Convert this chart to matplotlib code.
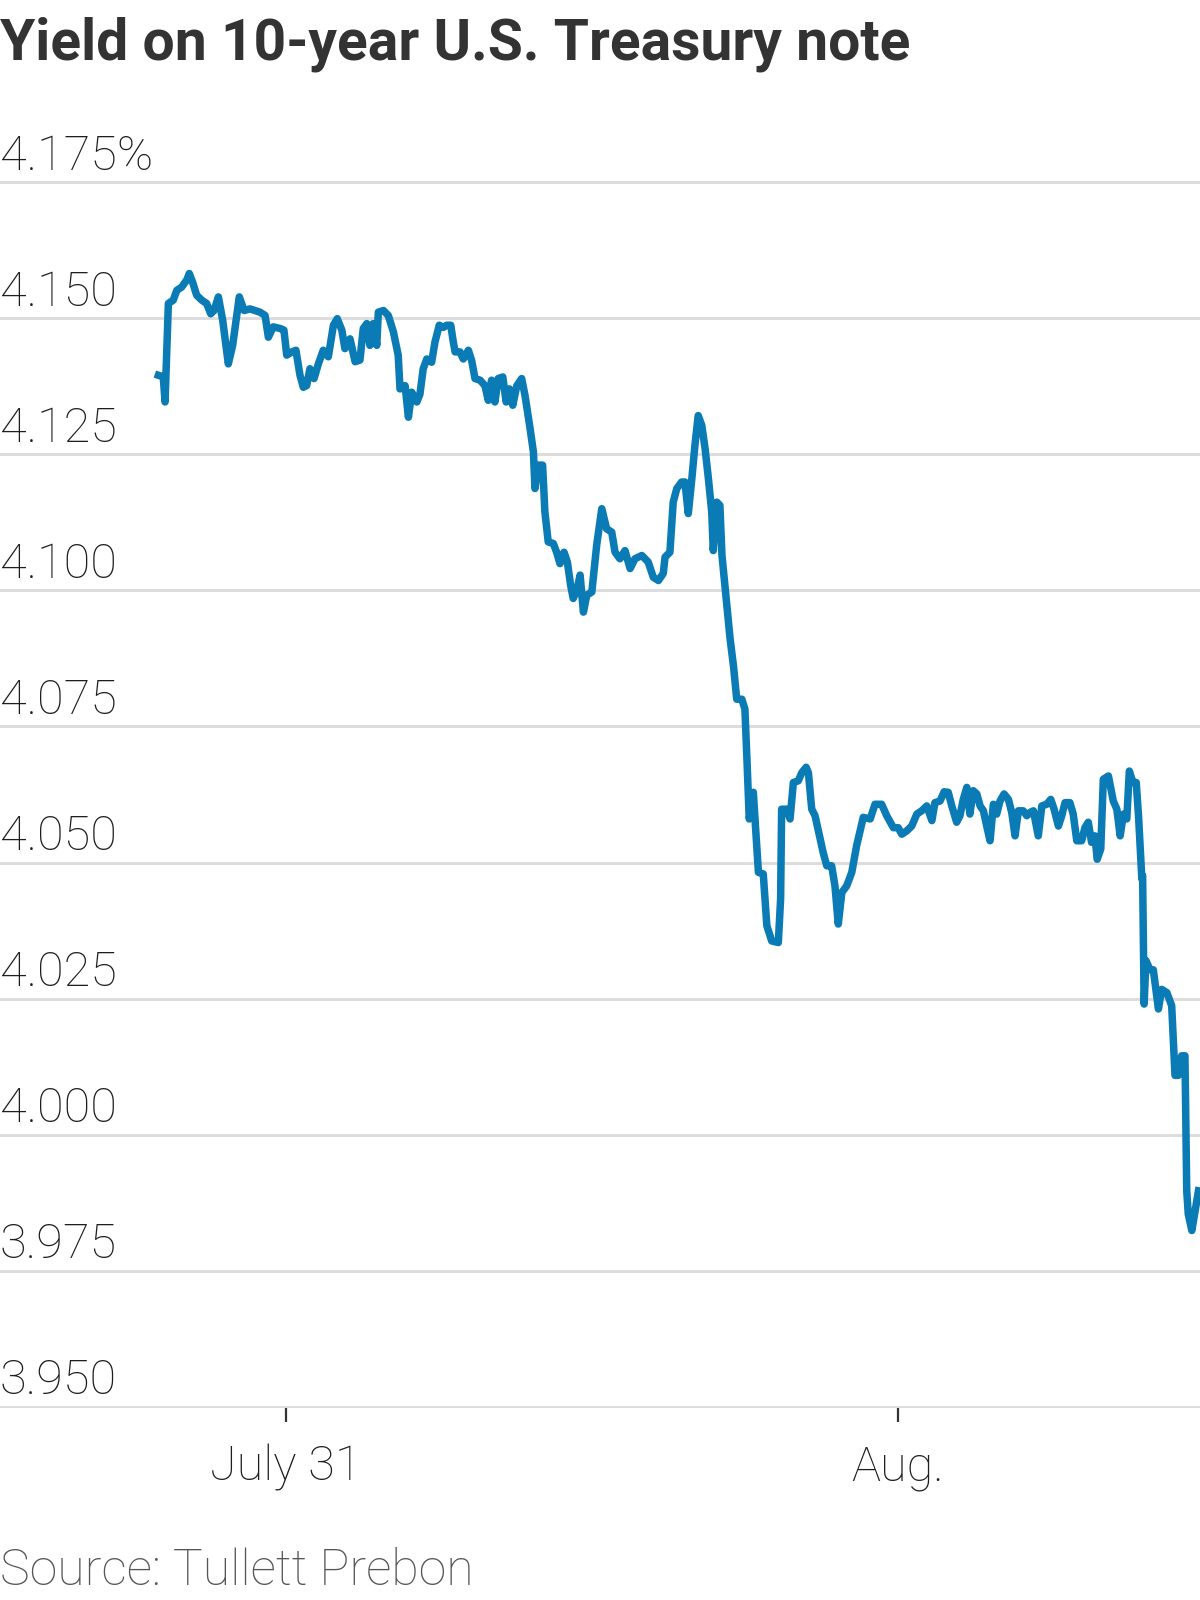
import matplotlib
matplotlib.use('Agg')
import matplotlib.pyplot as plt
from matplotlib import font_manager

# hours after midnight, July 31 (New York time); yield in percent
hours = [
    -4.99, -4.80, -4.73, -4.60, -4.41, -4.27, -4.08, -3.88, -3.78, -3.65,
    -3.49, -3.29, -3.10, -2.94, -2.81, -2.64, -2.47, -2.25, -2.08, -1.82,
    -1.63, -1.40, -1.20, -1.01, -0.81, -0.68, -0.49, -0.22, -0.07, 0.04,
    0.24, 0.40, 0.56, 0.69, 0.82, 0.95, 1.11, 1.28, 1.47, 1.67,
    1.87, 2.02, 2.20, 2.32, 2.52, 2.72, 2.91, 3.04, 3.18, 3.30,
    3.43, 3.57, 3.63, 3.83, 4.02, 4.22, 4.41, 4.48, 4.68, 4.81,
    4.94, 5.14,
    5.26, 5.39, 5.53, 5.72, 5.85, 6.02, 6.18, 6.31, 6.47, 6.57,
    6.64, 6.83, 6.96, 7.16, 7.29, 7.42, 7.62, 7.81, 7.94, 8.07,
    8.20, 8.33, 8.51, 8.64, 8.77, 8.90, 9.06, 9.25, 9.38, 9.58,
    9.71, 9.77, 9.90, 10.07, 10.16, 10.29, 10.49, 10.62, 10.75, 10.91,
    11.04, 11.17, 11.27, 11.41, 11.54, 11.67, 11.80, 12.00, 12.19, 12.39,
    12.58, 12.78, 12.91, 13.10, 13.30, 13.50, 13.69, 13.96, 14.21, 14.41,
    14.61, 14.80, 14.87, 15.06, 15.19, 15.33, 15.52, 15.65, 15.78, 15.92,
    16.04, 16.17, 16.31, 16.44, 16.57, 16.70, 16.76, 16.90, 17.02, 17.10,
    17.42, 17.55, 17.68, 17.88, 18.00, 18.09, 18.17, 18.33, 18.40, 18.53,
    18.72, 18.86, 19.05, 19.31, 19.40, 19.44, 19.64, 19.77, 19.90, 20.09,
    20.23, 20.40, 20.49, 20.62, 20.75, 20.88, 21.07, 21.21, 21.40, 21.53,
    21.66, 21.80, 21.99, 22.19, 22.38,
    22.64, 22.91, 23.10, 23.36, 23.56, 23.82, 24.01, 24.15, 24.34, 24.54,
    24.74, 24.93, 25.13, 25.33, 25.45, 25.65, 25.81, 25.97, 26.11, 26.30,
    26.43, 26.56, 26.70, 26.82, 26.95, 27.09, 27.22, 27.35, 27.48, 27.61,
    27.74, 27.87, 28.00, 28.16, 28.33, 28.46, 28.59, 28.72, 28.91, 29.05,
    29.18, 29.31, 29.50, 29.64, 29.83, 29.99, 30.12, 30.29, 30.42, 30.55,
    30.74, 30.87, 31.01, 31.20, 31.33, 31.46, 31.59, 31.72, 31.81, 31.95,
    32.05, 32.25, 32.44, 32.58, 32.71, 32.84, 32.97, 33.07, 33.21, 33.34,
    33.43, 33.56,
    33.59, 33.65, 33.72, 33.88, 34.01, 34.21, 34.34, 34.54, 34.73, 34.86,
    34.99, 35.12, 35.25, 35.32, 35.38, 35.52, 35.65, 35.78,
]
yields = [
    4.1395, 4.1392, 4.1346, 4.1527, 4.1533, 4.1551, 4.1557, 4.1570, 4.1582, 4.1566,
    4.1542, 4.1533, 4.1527, 4.1508, 4.1514, 4.1539, 4.1496, 4.1416, 4.1450, 4.1539,
    4.1514, 4.1517, 4.1514, 4.1511, 4.1505, 4.1465, 4.1484, 4.1481, 4.1478, 4.1432,
    4.1438, 4.1441, 4.1395, 4.1373, 4.1376, 4.1407, 4.1389, 4.1416, 4.1441, 4.1429,
    4.1487, 4.1499, 4.1478, 4.1444, 4.1462, 4.1420, 4.1423, 4.1481, 4.1490, 4.1450,
    4.1490, 4.1450, 4.1511, 4.1514, 4.1505, 4.1475, 4.1432, 4.1370, 4.1376, 4.1318,
    4.1364, 4.1346,
    4.1360, 4.1407, 4.1425, 4.1419, 4.1456, 4.1487, 4.1483, 4.1487, 4.1487, 4.1456,
    4.1438, 4.1438, 4.1425, 4.1441, 4.1422, 4.1389, 4.1386, 4.1376, 4.1349, 4.1386,
    4.1346, 4.1389, 4.1392, 4.1346, 4.1370, 4.1340, 4.1376, 4.1389, 4.1358, 4.1297,
    4.1254, 4.1187, 4.1230, 4.1230, 4.1144, 4.1089, 4.1086, 4.1070, 4.1049, 4.1070,
    4.1052, 4.1009, 4.0985, 4.1000, 4.1028, 4.0960, 4.0991, 4.0997, 4.1083, 4.1150,
    4.1113, 4.1107, 4.1070, 4.1058, 4.1073, 4.1040, 4.1058, 4.1064, 4.1052, 4.1024,
    4.1018, 4.1031, 4.1061, 4.1070, 4.1162, 4.1187, 4.1199, 4.1199, 4.1141, 4.1205,
    4.1266, 4.1321, 4.1303, 4.1260, 4.1205, 4.1144, 4.1073, 4.1162, 4.1156, 4.1065,
    4.0911, 4.0862, 4.0800, 4.0800, 4.0782, 4.0678, 4.0580, 4.0629, 4.0577, 4.0482,
    4.0479, 4.0384, 4.0356, 4.0353, 4.0433, 4.0598, 4.0598, 4.0580, 4.0647, 4.0650,
    4.0665, 4.0675, 4.0665, 4.0598, 4.0586, 4.0558, 4.0518, 4.0494, 4.0494, 4.0457,
    4.0387, 4.0445, 4.0457, 4.0482, 4.0531,
    4.0583, 4.0580, 4.0607, 4.0607, 4.0586, 4.0564, 4.0564, 4.0552, 4.0558, 4.0567,
    4.0589, 4.0595, 4.0604, 4.0577, 4.0610, 4.0613, 4.0630, 4.0629, 4.0604, 4.0574,
    4.0586, 4.0616, 4.0638, 4.0589, 4.0632, 4.0626, 4.0604, 4.0595, 4.0567, 4.0540,
    4.0607, 4.0589, 4.0613, 4.0626, 4.0616, 4.0592, 4.0549, 4.0595, 4.0595, 4.0586,
    4.0592, 4.0595, 4.0549, 4.0604, 4.0607, 4.0616, 4.0598, 4.0567, 4.0586, 4.0610,
    4.0610, 4.0589, 4.0540, 4.0540, 4.0564, 4.0574, 4.0537, 4.0549, 4.0506, 4.0525,
    4.0653, 4.0659, 4.0613, 4.0598, 4.0549, 4.0589, 4.0580, 4.0668, 4.0647, 4.0647,
    4.0586, 4.0470,
    4.0476, 4.0240, 4.0320, 4.0303, 4.0303, 4.0231, 4.0267, 4.0261, 4.0237, 4.0109,
    4.0109, 4.0145, 4.0145, 3.9897, 3.9854, 3.9824, 3.9860, 3.9897,
]

y_ticks = [3.950, 3.975, 4.000, 4.025, 4.050, 4.075, 4.100, 4.125, 4.150, 4.175]
y_labels = ['3.950', '3.975', '4.000', '4.025', '4.050', '4.075', '4.100',
            '4.125', '4.150', '4.175%']
x_ticks = [0, 24]
x_labels = ['July 31', 'Aug.']

title = 'Yield on 10-year U.S. Treasury note'
source = 'Source: Tullett Prebon'

names = {f.name for f in font_manager.fontManager.ttflist}
narrow = 'Liberation Sans Narrow' if 'Liberation Sans Narrow' in names else 'Roboto'

fig = plt.figure(figsize=(12, 16), dpi=100)
ax = fig.add_axes([0, 0.12, 1, 0.7669])

ax.plot(hours, yields, color='#0b7bb5', lw=5.4, solid_joinstyle='round', zorder=3)

ax.set_xlim(-11.2, 35.84)
ax.set_ylim(3.9498, 4.1752)
for s in ax.spines.values():
    s.set_visible(False)

ax.set_yticks(y_ticks)
ax.set_yticklabels([])
ax.tick_params(axis='y', length=0)
ax.grid(axis='y', color='#dddddd', lw=2.2, zorder=1)

for v, lab in zip(y_ticks, y_labels):
    ax.annotate(lab, xy=(0, v), xycoords=ax.get_yaxis_transform(),
                xytext=(0, 9), textcoords='offset points',
                ha='left', va='baseline', fontsize=35, fontweight='light',
                color='#1e1e1e', family=narrow)

ax.set_xticks(x_ticks, x_labels)
ax.tick_params(axis='x', direction='out', length=10, width=1.6,
               color='#333333', pad=16, labelsize=35, labelcolor='#1e1e1e')
for lbl in ax.get_xticklabels():
    lbl.set_fontfamily(narrow)
    lbl.set_fontweight('light')

fig.text(0.0, 1 - 60 / 1600, title, fontsize=41, fontweight='bold',
         family=narrow, color='#333333', va='baseline')
fig.text(0.0, 1 - 1585 / 1600, source, fontsize=36, family=narrow,
         fontweight='light', color='#555555', va='baseline')

fig.savefig('out.png', dpi=100)
